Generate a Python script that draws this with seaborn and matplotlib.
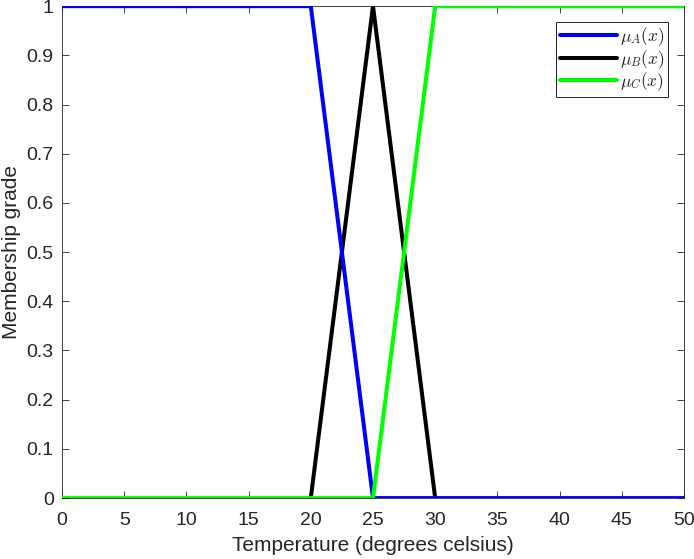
import matplotlib
matplotlib.use("Agg")
import matplotlib.pyplot as plt
import numpy as np
import pandas as pd
import seaborn as sns

# membership functions, breakpoints
temp_a = [0, 20, 25, 50]
mu_a = [1, 1, 0, 0]
temp_b = [20, 25, 30]
mu_b = [0, 1, 0]
temp_c = [0, 25, 30, 50]
mu_c = [0, 0, 1, 1]

sns.set_style("ticks")
plt.rcParams['font.family'] = ['Liberation Sans', 'DejaVu Sans']
plt.rcParams['mathtext.fontset'] = 'cm'

fig = plt.figure(figsize=(6.94, 5.59), dpi=100)
ax = fig.add_axes([0.0893, 0.109, 0.8963, 0.880])

lw = 2.9
sns.lineplot(x=temp_b, y=mu_b, ax=ax, color='black', linewidth=lw, zorder=2,
             label=r'$\mu_B(x)$', estimator=None, sort=False)
sns.lineplot(x=temp_a, y=mu_a, ax=ax, color='#0000ff', linewidth=lw, zorder=3,
             label=r'$\mu_A(x)$', estimator=None, sort=False)
sns.lineplot(x=temp_c, y=mu_c, ax=ax, color='#00ff00', linewidth=lw, zorder=4,
             label=r'$\mu_C(x)$', estimator=None, sort=False)

ax.set_xlim(0, 50)
ax.set_ylim(0, 1)
ax.set_xticks(np.arange(0, 51, 5))
ax.set_yticks(np.round(np.arange(0, 1.01, 0.1), 1))
ax.set_yticklabels(['0', '0.1', '0.2', '0.3', '0.4', '0.5', '0.6', '0.7', '0.8', '0.9', '1'])
ax.tick_params(direction='in', top=True, right=True, labelsize=14, length=5, width=0.6)
ax.tick_params(axis='x', pad=10)
ax.tick_params(axis='y', pad=6)
for s in ax.spines.values():
    s.set_linewidth(0.6)
    s.set_visible(True)
ax.set_xlabel('Temperature (degrees celsius)', fontsize=15, labelpad=5)
ax.set_ylabel('Membership grade', fontsize=15, labelpad=4)

h, l = ax.get_legend_handles_labels()
order = [1, 0, 2]
leg = ax.legend([h[i] for i in order], [l[i] for i in order], loc='upper right',
                fontsize=12.5, fancybox=False, edgecolor='black', framealpha=1,
                borderaxespad=0.9, handlelength=3.3, handletextpad=0.2,
                borderpad=0.2, labelspacing=0.0)
leg.get_frame().set_linewidth(0.6)

fig.savefig('out.png', dpi=100)
